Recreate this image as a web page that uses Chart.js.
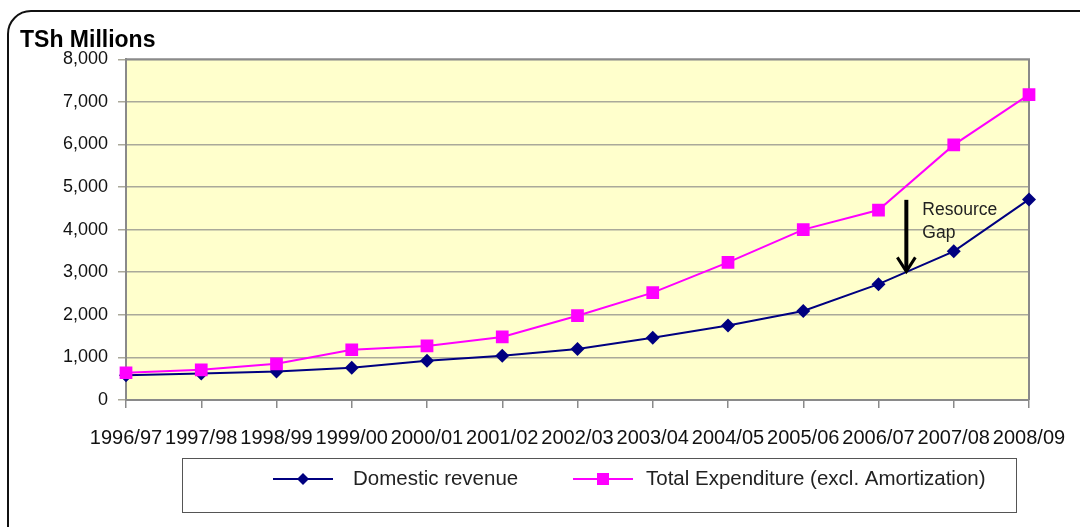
<!DOCTYPE html>
<html>
<head>
<meta charset="utf-8">
<script src="https://cdn.jsdelivr.net/npm/chart.js@4.4.1/dist/chart.umd.min.js"></script>
<style>
  html, body { margin: 0; padding: 0; background: #fff; }
  #frame {
    position: absolute; left: 7px; top: 10px;
    width: 1100px; height: 540px;
    border: 2px solid #111; border-radius: 24px;
  }
  #chart { position: absolute; left: 0; top: 0; }
</style>
</head>
<body>
<div id="frame"></div>
<canvas id="chart" width="1080" height="527"></canvas>
<script>
const years = ['1996/97', '1997/98', '1998/99', '1999/00', '2000/01', '2001/02', '2002/03',
  '2003/04', '2004/05', '2005/06', '2006/07', '2007/08', '2008/09'];
const domesticRevenue = [580, 620, 670, 760, 920, 1040, 1200, 1460, 1750, 2090, 2720, 3490, 4710];
const totalExpenditure = [640, 710, 850, 1180, 1270, 1480, 1980, 2520, 3230, 4000, 4460, 5990, 7170];
const seriesNames = ['Domestic revenue', 'Total Expenditure (excl. Amortization)'];
const yMax = 8000;
const yStep = 1000;
// arrow marking the resource gap: x as category index, y top/tip in TSh millions
const gapArrow = { x: 10.37, from: 4700, to: 3020 };

const FONT = "'Liberation Sans', Arial, sans-serif";

const plotArea = {
  id: 'plotArea',
  beforeDraw(chart) {
    const { ctx, chartArea: a } = chart;
    ctx.save();
    ctx.fillStyle = '#ffffcc';
    ctx.fillRect(a.left, a.top, a.width, a.height);
    ctx.restore();
  },
  beforeDatasetsDraw(chart) {
    const { ctx, chartArea: a } = chart;
    ctx.save();
    ctx.strokeStyle = '#8a8a8a';
    ctx.lineWidth = 2;
    ctx.beginPath();
    ctx.moveTo(a.left, a.top);
    ctx.lineTo(a.right, a.top);
    ctx.lineTo(a.right, a.bottom);
    ctx.stroke();
    ctx.restore();
  },
  afterDraw(chart) {
    const { ctx } = chart;
    const xs = chart.scales.x, ys = chart.scales.y;

    // resource gap arrow
    const ax = xs.getPixelForValue(gapArrow.x);
    const top = ys.getPixelForValue(gapArrow.from);
    const tip = ys.getPixelForValue(gapArrow.to);
    ctx.save();
    ctx.strokeStyle = '#000';
    ctx.lineWidth = 4;
    ctx.beginPath();
    ctx.moveTo(ax, top);
    ctx.lineTo(ax, tip - 2);
    ctx.stroke();
    ctx.lineWidth = 3;
    ctx.beginPath();
    ctx.moveTo(ax - 9, tip - 14);
    ctx.lineTo(ax, tip);
    ctx.lineTo(ax + 9, tip - 14);
    ctx.stroke();

    ctx.fillStyle = '#222';
    ctx.font = '17.5px ' + FONT;
    ctx.textBaseline = 'middle';
    ctx.textAlign = 'left';
    ctx.fillText('Resource', ax + 16, top + 10);
    ctx.fillText('Gap', ax + 16, top + 33);

    // legend
    ctx.strokeStyle = '#555';
    ctx.lineWidth = 1;
    ctx.strokeRect(182.5, 458.5, 834, 54);
    const items = [
      { x: 273, ds: chart.data.datasets[0], r: 6 },
      { x: 573, ds: chart.data.datasets[1], r: 8.5 }
    ];
    const ly = 479;
    ctx.font = '20.5px ' + FONT;
    items.forEach(it => {
      const cx = it.x + 30;
      ctx.strokeStyle = it.ds.borderColor;
      ctx.lineWidth = 2;
      ctx.beginPath();
      ctx.moveTo(it.x, ly);
      ctx.lineTo(it.x + 60, ly);
      ctx.stroke();
      ctx.fillStyle = it.ds.pointBackgroundColor;
      ctx.beginPath();
      if (it.ds.pointStyle === 'rect') {
        const s = it.r * Math.SQRT1_2;
        ctx.rect(cx - s, ly - s, 2 * s, 2 * s);
      } else {
        ctx.moveTo(cx - it.r, ly);
        ctx.lineTo(cx, ly - it.r);
        ctx.lineTo(cx + it.r, ly);
        ctx.lineTo(cx, ly + it.r);
        ctx.closePath();
      }
      ctx.fill();
      ctx.fillStyle = '#222';
      ctx.fillText(it.ds.label, it.x + (it.ds.pointStyle === 'rect' ? 73 : 80), ly);
    });
    ctx.restore();
  }
};

new Chart(document.getElementById('chart'), {
  type: 'line',
  data: {
    labels: years,
    datasets: [
      {
        label: seriesNames[0],
        data: domesticRevenue,
        borderColor: '#000080',
        backgroundColor: '#000080',
        pointBackgroundColor: '#000080',
        pointBorderColor: '#000080',
        pointStyle: 'rectRot',
        pointRadius: 7,
        pointBorderWidth: 0,
        borderWidth: 2,
        tension: 0,
        order: 1
      },
      {
        label: seriesNames[1],
        data: totalExpenditure,
        borderColor: '#ff00ff',
        backgroundColor: '#ff00ff',
        pointBackgroundColor: '#ff00ff',
        pointBorderColor: '#ff00ff',
        pointStyle: 'rect',
        pointRadius: 9,
        pointBorderWidth: 0,
        borderWidth: 2,
        tension: 0,
        order: 0
      }
    ]
  },
  options: {
    responsive: false,
    animation: false,
    layout: { padding: { top: 20, left: 20, right: 51, bottom: 59 } },
    plugins: {
      legend: { display: false },
      tooltip: { enabled: false },
      title: {
        display: true,
        text: 'TSh Millions',
        align: 'start',
        color: '#000',
        font: { size: 23, weight: 'bold', family: FONT, lineHeight: 1.1 },
        padding: { top: 8, bottom: 6 }
      }
    },
    scales: {
      x: {
        offset: false,
        afterFit(scale) { scale.paddingRight = 0; scale.paddingLeft = 0; },
        grid: { drawOnChartArea: false, tickLength: 8, color: '#8a8a8a', lineWidth: 1.5 },
        border: { color: '#8a8a8a', width: 2 },
        ticks: {
          autoSkip: false, maxRotation: 0, minRotation: 0, padding: 18,
          color: '#111', font: { size: 20, family: FONT }
        }
      },
      y: {
        min: 0,
        max: yMax,
        afterFit(scale) { scale.width = 106; },
        grid: { color: '#aaa99a', tickLength: 8, lineWidth: 1.5 },
        border: { color: '#8a8a8a', width: 2 },
        ticks: {
          stepSize: yStep, padding: 10, color: '#111',
          font: { size: 18, family: FONT },
          callback: v => v.toLocaleString('en-US')
        }
      }
    }
  },
  plugins: [plotArea]
});
</script>
</body>
</html>
